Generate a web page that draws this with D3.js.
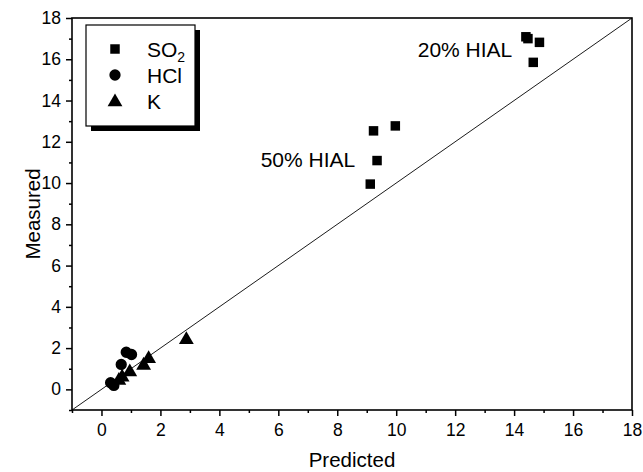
<!DOCTYPE html>
<html><head><meta charset="utf-8">
<script src="https://cdn.jsdelivr.net/npm/d3@7"></script>
<style>body{margin:0;background:#fff}svg{display:block}text{font-family:"Liberation Sans",Arial,sans-serif;fill:#000}</style>
</head><body>
<svg id="c" width="643" height="472"></svg>
<script>
const so2X = [14.40, 14.47, 14.86, 14.65, 9.23, 9.97, 9.35, 9.12];
const so2Y = [17.09, 17.00, 16.82, 15.85, 12.53, 12.77, 11.09, 9.95];
const hclX = [0.84, 1.02, 0.67, 0.31, 0.42];
const hclY = [1.80, 1.69, 1.21, 0.32, 0.19];
const kX = [2.88, 1.60, 1.43, 0.96, 0.70, 0.59];
const kY = [2.45, 1.53, 1.21, 0.89, 0.64, 0.48];
const xTicks = [0, 2, 4, 6, 8, 10, 12, 14, 16, 18];
const yTicks = [0, 2, 4, 6, 8, 10, 12, 14, 16, 18];
const minorTicks = [-1, 1, 3, 5, 7, 9, 11, 13, 15, 17];
const legendNames = ["SO", "HCl", "K"];
const annotations = [{t: "20% HIAL", x: 10.73, y: 16.1}, {t: "50% HIAL", x: 5.4, y: 10.8}];

const svg = d3.select("#c");
const L = 72, R = 632, T = 18, B = 410;
const x = d3.scaleLinear().domain([-1, 18]).range([L, R]);
const y = d3.scaleLinear().domain([-1, 18]).range([B, T]);

svg.append("rect").attr("x", L).attr("y", T).attr("width", R - L).attr("height", B - T)
  .attr("fill", "none").attr("stroke", "#000").attr("stroke-width", 1.6);

const gx = svg.append("g").attr("transform", `translate(0,${B})`)
  .call(d3.axisBottom(x).tickValues(xTicks).tickSize(6).tickPadding(8));
gx.append("g").call(d3.axisBottom(x).tickValues(minorTicks).tickSize(3).tickFormat(""));
const gy = svg.append("g").attr("transform", `translate(${L},0)`)
  .call(d3.axisLeft(y).tickValues(yTicks).tickSize(6).tickPadding(5));
gy.append("g").call(d3.axisLeft(y).tickValues(minorTicks).tickSize(3).tickFormat(""));
svg.selectAll(".domain").remove();
svg.selectAll(".tick line").attr("stroke", "#000").attr("stroke-width", 1.5);
svg.selectAll("g").attr("font-size", null).attr("font-family", null);
svg.selectAll(".tick text").style("font-size", "17.5px");

svg.append("line").attr("x1", x(-1)).attr("y1", y(-1)).attr("x2", x(18)).attr("y2", y(18))
  .attr("stroke", "#000").attr("stroke-width", 0.9);

svg.append("text").attr("x", (L + R) / 2).attr("y", 467).attr("text-anchor", "middle")
  .style("font-size", "20.5px").text("Predicted");
svg.append("text").attr("transform", `translate(40,${(T + B) / 2}) rotate(-90)`).attr("text-anchor", "middle")
  .style("font-size", "20.5px").text("Measured");

const sq = d3.symbol().type(d3.symbolSquare).size(90);
const ci = d3.symbol().type(d3.symbolCircle).size(100);
const tr = d3.symbol().type(d3.symbolTriangle).size(95);

svg.append("g").selectAll("path").data(d3.range(hclX.length)).join("path")
  .attr("d", ci).attr("transform", i => `translate(${x(hclX[i])},${y(hclY[i])})`);
svg.append("g").selectAll("path").data(d3.range(kX.length)).join("path")
  .attr("d", tr).attr("transform", i => `translate(${x(kX[i])},${y(kY[i]) + 1})`);
svg.append("g").selectAll("path").data(d3.range(so2X.length)).join("path")
  .attr("d", sq).attr("transform", i => `translate(${x(so2X[i])},${y(so2Y[i])})`);

svg.selectAll(".ann").data(annotations).join("text").attr("class", "ann")
  .attr("x", d => x(d.x)).attr("y", d => y(d.y)).style("font-size", "21px").text(d => d.t);

const lg = svg.append("g");
lg.append("rect").attr("x", 91).attr("y", 30).attr("width", 109).attr("height", 101).attr("fill", "#000");
lg.append("rect").attr("x", 86).attr("y", 25).attr("width", 109).attr("height", 101)
  .attr("fill", "#fff").attr("stroke", "#000").attr("stroke-width", 1.2);
const legSyms = [sq, ci, tr];
legendNames.forEach((n, i) => {
  const yy = 49 + i * 26;
  lg.append("path").attr("d", legSyms[i]).attr("transform", `translate(115,${yy + (i === 2 ? 1 : 0)})`);
  const t = lg.append("text").attr("x", 147).attr("y", yy + 8).style("font-size", "21px").text(n);
  if (i === 0) t.append("tspan").attr("dy", 5).style("font-size", "14px").text("2");
});
</script>
</body></html>
